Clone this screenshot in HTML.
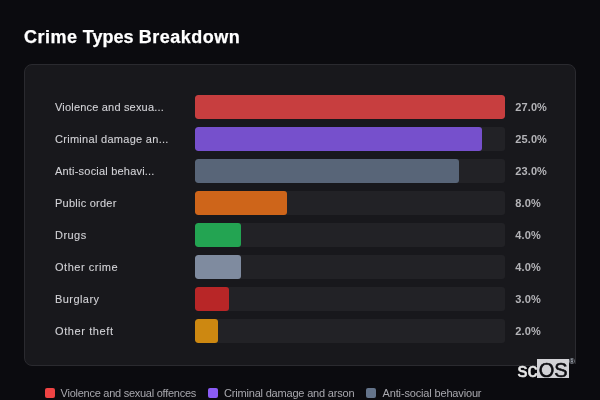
<!DOCTYPE html>
<html><head><meta charset="utf-8">
<style>
html,body{margin:0;padding:0;}
body{width:600px;height:400px;overflow:hidden;background:#0b0b0f;font-family:"Liberation Sans","DejaVu Sans",sans-serif;position:relative;}
.t{position:absolute;top:26px;margin:0;font-size:18px;line-height:22px;font-weight:700;color:#fff;white-space:nowrap;-webkit-text-stroke:0.25px #fff;}
.card{position:absolute;left:24px;top:64px;width:550px;height:300px;background:#18181c;border:1px solid #2a2a2f;border-radius:8px 8px 0 8px;}
.row{position:absolute;left:0;height:24px;width:600px;}
.lab{position:absolute;left:55px;top:0.3px;line-height:24px;font-size:11px;color:#d2d2d6;white-space:nowrap;-webkit-text-stroke:0.1px #d2d2d6;}
.track{position:absolute;left:195px;top:0;width:310px;height:24px;background:#222226;border-radius:3px;overflow:hidden;}
.fill{height:24px;border-radius:3px;}
.val{position:absolute;left:515.3px;top:0;line-height:24px;font-size:11px;font-weight:700;color:#b4b4b8;white-space:nowrap;letter-spacing:0.1px;}
.leg{position:absolute;top:387.4px;height:12px;font-size:11px;line-height:12px;color:#a8a8ae;white-space:nowrap;}
.sq{position:absolute;top:388px;width:10px;height:10px;border-radius:2px;}
.wm{position:absolute;font-size:20px;line-height:22px;white-space:nowrap;-webkit-text-stroke:0.55px;}
</style></head><body>
<div class="t" style="left:24px;letter-spacing:0.5px">Crime</div>
<div class="t" style="left:82.8px;letter-spacing:0px">Types</div>
<div class="t" style="left:138.7px;letter-spacing:0.5px">Breakdown</div>
<div class="card"></div>
<div class="row" style="top:95px"><div class="lab" style="letter-spacing:0.19px">Violence and sexua...</div><div class="track"><div class="fill" style="width:310px;background:#c73e3f"></div></div><div class="val">27.0%</div></div>
<div class="row" style="top:127px"><div class="lab" style="letter-spacing:0.29px">Criminal damage an...</div><div class="track"><div class="fill" style="width:287px;background:#7650cc"></div></div><div class="val">25.0%</div></div>
<div class="row" style="top:159px"><div class="lab" style="letter-spacing:0.2px">Anti-social behavi...</div><div class="track"><div class="fill" style="width:264px;background:#586578"></div></div><div class="val">23.0%</div></div>
<div class="row" style="top:191px"><div class="lab" style="letter-spacing:0.24px">Public order</div><div class="track"><div class="fill" style="width:92px;background:#ce651a"></div></div><div class="val">8.0%</div></div>
<div class="row" style="top:223px"><div class="lab" style="letter-spacing:0.45px">Drugs</div><div class="track"><div class="fill" style="width:46px;background:#23a452"></div></div><div class="val">4.0%</div></div>
<div class="row" style="top:255px"><div class="lab" style="letter-spacing:0.52px">Other crime</div><div class="track"><div class="fill" style="width:46px;background:#7f8b9f"></div></div><div class="val">4.0%</div></div>
<div class="row" style="top:287px"><div class="lab" style="letter-spacing:0.43px">Burglary</div><div class="track"><div class="fill" style="width:34px;background:#b82627"></div></div><div class="val">3.0%</div></div>
<div class="row" style="top:319px"><div class="lab" style="letter-spacing:0.6px">Other theft</div><div class="track"><div class="fill" style="width:23px;background:#cd8811"></div></div><div class="val">2.0%</div></div>
<div class="sq" style="left:45px;background:#ef4444"></div><div class="leg" style="left:60.6px;letter-spacing:-0.26px">Violence and sexual offences</div>
<div class="sq" style="left:208px;background:#8b5cf6"></div><div class="leg" style="left:224px;letter-spacing:-0.19px">Criminal damage and arson</div>
<div class="sq" style="left:365.7px;background:#64748b"></div><div class="leg" style="left:382.6px;letter-spacing:-0.16px">Anti-social behaviour</div>
<div style="position:absolute;left:569px;top:364px;width:8px;height:3px;background:#0b0b0f"></div>
<div class="wm" style="left:517.5px;top:359px;color:#e8e8e8">sc</div>
<div style="position:absolute;left:537.3px;top:359px;width:31.7px;height:19.3px;background:#d2d2d6"></div>
<div class="wm" style="left:538.8px;top:359px;color:#0c0c10">OS</div>
<div style="position:absolute;left:568.9px;top:357.6px;font-size:8px;line-height:8px;color:#c4ccd8">®</div>
</body></html>
